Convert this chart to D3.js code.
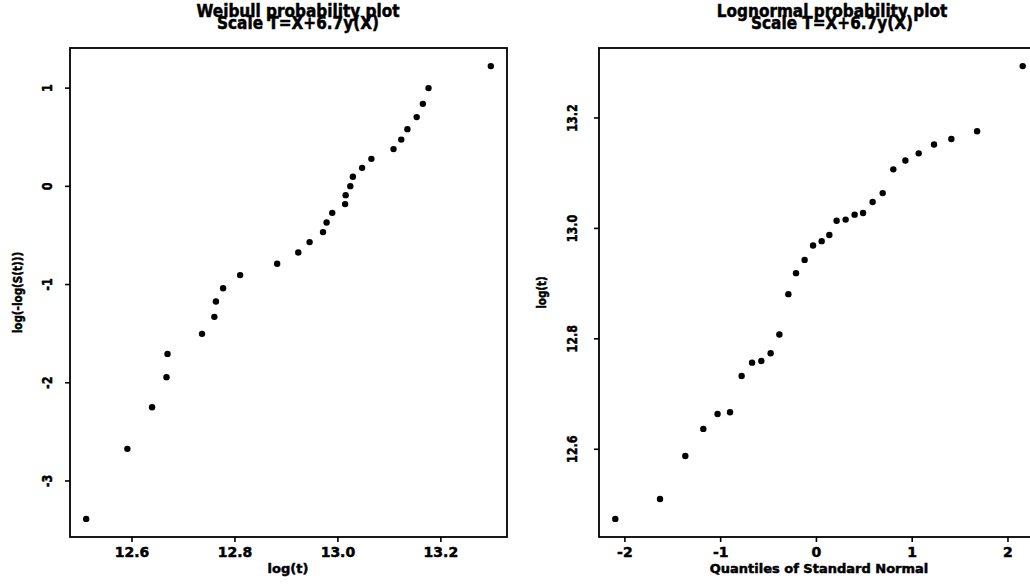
<!DOCTYPE html>
<html>
<head>
<meta charset="utf-8">
<script src="https://cdn.jsdelivr.net/npm/d3@7"></script>
<style>
  body { margin: 0; background: #fff; }
  svg { display: block; }
  text { font-family: "DejaVu Sans", "Liberation Sans", sans-serif; font-weight: bold; fill: #000; stroke: #000; stroke-width: 0.5; }
  .axis path { display: none; }
  .axis line { stroke: #000; stroke-width: 1.6; }
</style>
</head>
<body>
<svg id="plot" width="1030" height="584"></svg>
<script>
// Weibull panel: log(t) against log(-log(S(t)))
var weibullLogT = [12.512, 12.592, 12.640, 12.668, 12.670, 12.737, 12.761, 12.764, 12.778, 12.811,
  12.883, 12.924, 12.946, 12.972, 12.979, 12.990, 13.015, 13.016, 13.025, 13.030,
  13.048, 13.066, 13.109, 13.124, 13.136, 13.154, 13.166, 13.177, 13.298];
var weibullLLS = [-3.391, -2.678, -2.254, -1.948, -1.711, -1.507, -1.334, -1.178, -1.042, -0.909,
  -0.794, -0.679, -0.573, -0.471, -0.374, -0.275, -0.186, -0.095, -0.003, 0.092,
  0.183, 0.275, 0.374, 0.471, 0.577, 0.700, 0.835, 0.995, 1.219];

// Lognormal panel: normal quantiles against log(t)
var normQuantiles = [-2.095, -1.628, -1.364, -1.176, -1.027, -0.897, -0.776, -0.667, -0.570, -0.473,
  -0.382, -0.288, -0.208, -0.118, -0.030, 0.060, 0.140, 0.216, 0.310, 0.404,
  0.492, 0.592, 0.697, 0.808, 0.934, 1.073, 1.233, 1.414, 1.683, 2.159];
var lognormLogT = [12.473, 12.509, 12.587, 12.636, 12.663, 12.666, 12.732, 12.756, 12.759, 12.773,
  12.807, 12.880, 12.918, 12.942, 12.968, 12.976, 12.987, 13.013, 13.015, 13.024,
  13.027, 13.047, 13.063, 13.106, 13.122, 13.135, 13.151, 13.161, 13.175, 13.293];

// tick values and the labels printed for them
var weibullXTicks = [12.6, 12.8, 13.0, 13.2];
var weibullXLabels = ["12.6", "12.8", "13.0", "13.2"];
var weibullYTicks = [-3, -2, -1, 0, 1];
var weibullYLabels = ["-3", "-2", "-1", "0", "1"];
var lognormXTicks = [-2, -1, 0, 1, 2];
var lognormXLabels = ["-2", "-1", "0", "1", "2"];
var lognormYTicks = [12.6, 12.8, 13.0, 13.2];
var lognormYLabels = ["12.6", "12.8", "13.0", "13.2"];

var svg = d3.select('#plot');

// S-style axis range: data extent widened by 4% each side
function padded(values) {
  var ext = d3.extent(values);
  var pad = (ext[1] - ext[0]) * 0.04;
  return [ext[0] - pad, ext[1] + pad];
}

function drawPanel(opt) {
  var x = d3.scaleLinear().domain(padded(opt.xs)).range([opt.left, opt.right]);
  var y = d3.scaleLinear().domain(padded(opt.ys)).range([opt.bottom, opt.top]);
  var g = svg.append('g');
  var midY = (opt.top + opt.bottom) / 2;

  // x axis ticks and labels
  var xAxis = d3.axisBottom(x)
    .tickValues(opt.xTicks)
    .tickSize(5)
    .tickFormat(function (d, i) { return opt.xLabels[i]; });
  var gx = g.append('g')
    .attr('class', 'axis')
    .attr('transform', 'translate(0,' + opt.bottom + ')')
    .call(xAxis);
  gx.selectAll('text')
    .attr('y', 10)
    .attr('dy', '0.71em')
    .style('font-size', '14px');

  // y axis: labels run along the axis
  var yAxis = d3.axisLeft(y)
    .tickValues(opt.yTicks)
    .tickSize(5)
    .tickFormat(function (d, i) { return opt.yLabels[i]; });
  var gy = g.append('g')
    .attr('class', 'axis')
    .attr('transform', 'translate(' + opt.left + ',0)')
    .call(yAxis);
  gy.selectAll('.tick text')
    .attr('x', null).attr('dy', null)
    .attr('text-anchor', 'middle')
    .attr('transform', 'translate(' + (-opt.yLabelOffset) + ',0) rotate(-90) scale(0.8,1)')
    .style('font-size', '14px');

  // frame
  g.append('rect')
    .attr('x', opt.left)
    .attr('y', opt.top)
    .attr('width', opt.right - opt.left)
    .attr('height', opt.bottom - opt.top)
    .attr('fill', 'none')
    .attr('stroke', '#000')
    .attr('stroke-width', 1.8);

  // points
  g.selectAll('circle')
    .data(opt.xs)
    .enter()
    .append('circle')
    .attr('cx', function (d) { return x(d); })
    .attr('cy', function (d, i) { return y(opt.ys[i]); })
    .attr('r', 3.2)
    .attr('fill', '#000');

  // axis titles
  g.append('text')
    .attr('x', opt.xTitleX)
    .attr('y', 573)
    .attr('text-anchor', 'middle')
    .style('font-size', '13px')
    .text(opt.xTitle);
  g.append('text')
    .attr('text-anchor', 'middle')
    .attr('transform', 'translate(' + opt.yTitleX + ',' + midY + ') rotate(-90) scale(0.8,1)')
    .style('font-size', '13px')
    .text(opt.yTitle);

  // two-line title, second line printed over the first
  g.append('text')
    .attr('text-anchor', 'middle')
    .attr('transform', 'translate(' + opt.titleX + ',17) scale(0.9,1)')
    .style('font-size', '17px')
    .text(opt.title[0]);
  g.append('text')
    .attr('text-anchor', 'middle')
    .attr('transform', 'translate(' + opt.titleX + ',29) scale(0.9,1)')
    .style('font-size', '17px')
    .text(opt.title[1]);
}

drawPanel({
  xs: weibullLogT, ys: weibullLLS,
  left: 70, right: 507, top: 48, bottom: 537,
  xTicks: weibullXTicks, xLabels: weibullXLabels,
  yTicks: weibullYTicks, yLabels: weibullYLabels,
  yLabelOffset: 18,
  xTitle: 'log(t)', xTitleX: 288,
  yTitle: 'log(-log(S(t)))', yTitleX: 22,
  title: ['Weibull probability plot', 'Scale T=X+6.7y(X)'], titleX: 298
});

drawPanel({
  xs: normQuantiles, ys: lognormLogT,
  left: 599, right: 1039, top: 48, bottom: 537,
  xTicks: lognormXTicks, xLabels: lognormXLabels,
  yTicks: lognormYTicks, yLabels: lognormYLabels,
  yLabelOffset: 22,
  xTitle: 'Quantiles of Standard Normal', xTitleX: 819,
  yTitle: 'log(t)', yTitleX: 546,
  title: ['Lognormal probability plot', 'Scale T=X+6.7y(X)'], titleX: 832
});
</script>
</body>
</html>
